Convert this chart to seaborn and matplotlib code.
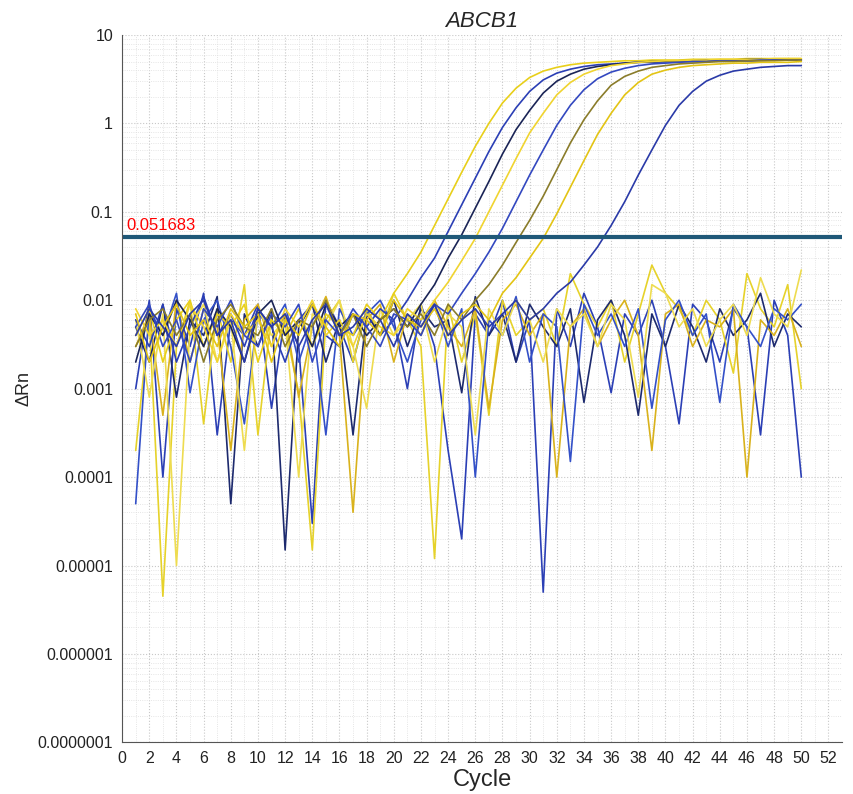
import numpy as np
import pandas as pd
import matplotlib
matplotlib.use("Agg")
import matplotlib.pyplot as plt
import seaborn as sns
from matplotlib.ticker import FixedLocator, FixedFormatter, LogLocator

cycles = list(range(1, 51))

# amplifying wells
amp1 = [0.004,0.008,0.002,0.006,0.01,0.003,0.007,0.005,0.009,0.002,0.006,0.004,0.008,0.003,0.007,0.005,0.004,0.009,0.006,0.012,0.02,0.035,0.07,0.14,0.28,0.55,1.0,1.7,2.5,3.3,3.9,4.3,4.6,4.8,4.9,5.0,5.1,5.1,5.2,5.2,5.2,5.3,5.3,5.3,5.3,5.4,5.4,5.4,5.4,5.4]
amp2 = [0.006,0.003,0.009,0.002,0.005,0.011,0.004,0.007,0.003,0.008,0.005,0.002,0.006,0.009,0.004,0.003,0.007,0.005,0.008,0.006,0.01,0.018,0.03,0.06,0.12,0.24,0.48,0.9,1.5,2.3,3.1,3.7,4.1,4.4,4.6,4.7,4.8,4.9,4.9,5.0,5.0,5.0,5.1,5.1,5.1,5.1,5.1,5.2,5.2,5.2]
amp3 = [0.002,0.007,0.004,0.01,0.006,0.003,0.008,0.005,0.002,0.007,0.01,0.004,0.006,0.003,0.009,0.005,0.007,0.004,0.006,0.008,0.005,0.009,0.015,0.03,0.055,0.11,0.22,0.45,0.85,1.4,2.2,3.0,3.6,4.1,4.4,4.6,4.8,4.9,5.0,5.0,5.1,5.1,5.2,5.2,5.2,5.3,5.3,5.3,5.3,5.3]
amp4 = [0.008,0.004,0.006,0.003,0.009,0.005,0.002,0.007,0.004,0.006,0.003,0.008,0.005,0.01,0.004,0.006,0.003,0.007,0.005,0.004,0.008,0.006,0.01,0.016,0.028,0.05,0.1,0.2,0.4,0.78,1.3,2.1,2.9,3.6,4.1,4.5,4.7,4.9,5.0,5.1,5.1,5.2,5.2,5.3,5.3,5.3,5.3,5.4,5.4,5.4]
amp5 = [0.005,0.009,0.003,0.006,0.002,0.008,0.005,0.01,0.004,0.003,0.007,0.005,0.009,0.002,0.006,0.004,0.008,0.005,0.003,0.007,0.006,0.004,0.009,0.007,0.012,0.02,0.035,0.065,0.13,0.26,0.5,0.95,1.6,2.4,3.2,3.8,4.2,4.5,4.7,4.8,4.9,5.0,5.0,5.1,5.1,5.1,5.2,5.2,5.2,5.2]
amp6 = [0.003,0.006,0.008,0.004,0.007,0.002,0.006,0.009,0.005,0.004,0.008,0.003,0.006,0.005,0.01,0.004,0.007,0.003,0.006,0.008,0.005,0.007,0.004,0.009,0.006,0.01,0.015,0.025,0.045,0.08,0.15,0.3,0.6,1.1,1.8,2.7,3.4,3.9,4.3,4.5,4.7,4.8,4.9,5.0,5.0,5.1,5.1,5.1,5.2,5.2]
amp7 = [0.007,0.002,0.005,0.009,0.004,0.006,0.003,0.008,0.005,0.007,0.002,0.006,0.004,0.009,0.005,0.003,0.007,0.006,0.004,0.01,0.006,0.005,0.008,0.004,0.007,0.009,0.006,0.012,0.018,0.03,0.05,0.095,0.19,0.38,0.75,1.3,2.1,2.9,3.6,4.0,4.3,4.5,4.6,4.7,4.8,4.8,4.9,4.9,4.9,5.0]
amp8 = [0.004,0.008,0.005,0.003,0.007,0.01,0.004,0.006,0.002,0.008,0.005,0.007,0.003,0.006,0.009,0.004,0.005,0.008,0.006,0.003,0.007,0.005,0.009,0.004,0.006,0.008,0.005,0.007,0.01,0.006,0.008,0.012,0.016,0.025,0.04,0.07,0.13,0.26,0.5,0.95,1.6,2.3,3.0,3.5,3.9,4.1,4.3,4.4,4.5,4.5]

# non-amplifying wells
noise1 = [0.001,0.01,0.0001,0.008,0.003,0.012,0.0003,0.006,0.004,0.009,0.0006,0.007,0.003,0.00003,0.01,0.005,0.002,0.008,0.004,0.006,0.001,0.009,0.003,0.0002,0.00002,0.007,0.004,0.01,0.002,0.006,0.000005,0.008,0.003,0.012,0.005,0.0009,0.007,0.004,0.01,0.003,0.0004,0.009,0.006,0.002,0.008,0.005,0.0003,0.01,0.004,0.0001]
noise2 = [0.0002,0.006,0.0000045,0.003,0.01,0.0004,0.008,0.002,0.015,0.0003,0.007,0.005,0.0009,0.000015,0.006,0.01,0.002,0.008,0.004,0.012,0.006,0.003,0.000012,0.009,0.002,0.007,0.0005,0.01,0.004,0.006,0.008,0.003,0.02,0.009,0.005,0.01,0.002,0.007,0.025,0.012,0.008,0.004,0.01,0.006,0.0015,0.02,0.008,0.005,0.015,0.001]
noise3 = [0.005,0.002,0.009,0.0008,0.006,0.004,0.011,0.00005,0.007,0.003,0.008,0.000015,0.005,0.009,0.002,0.006,0.0003,0.007,0.004,0.01,0.003,0.008,0.005,0.006,0.0009,0.011,0.004,0.007,0.002,0.009,0.005,0.003,0.008,0.0007,0.006,0.01,0.004,0.0005,0.007,0.003,0.009,0.005,0.002,0.008,0.004,0.006,0.012,0.003,0.007,0.005]
noise4 = [0.003,0.007,0.0005,0.01,0.002,0.008,0.005,0.0002,0.006,0.009,0.003,0.007,0.0008,0.005,0.011,0.004,0.00004,0.006,0.009,0.002,0.007,0.004,0.01,0.005,0.003,0.008,0.0006,0.006,0.009,0.004,0.007,0.0001,0.005,0.008,0.003,0.006,0.01,0.004,0.0002,0.007,0.009,0.003,0.006,0.005,0.008,0.0001,0.006,0.004,0.008,0.003]
noise5 = [0.00005,0.008,0.004,0.012,0.0009,0.006,0.01,0.003,0.0004,0.007,0.005,0.009,0.002,0.006,0.0003,0.008,0.004,0.007,0.01,0.005,0.002,0.006,0.009,0.003,0.008,0.0001,0.006,0.004,0.011,0.002,0.007,0.005,0.00015,0.009,0.004,0.007,0.003,0.008,0.0006,0.006,0.01,0.004,0.007,0.0007,0.009,0.005,0.003,0.008,0.006,0.009]
noise6 = [0.006,0.0008,0.007,0.00001,0.005,0.009,0.002,0.006,0.0002,0.008,0.004,0.006,0.0001,0.007,0.005,0.01,0.003,0.0006,0.008,0.004,0.006,0.009,0.002,0.007,0.005,0.0003,0.008,0.004,0.01,0.006,0.002,0.008,0.005,0.007,0.003,0.009,0.006,0.0008,0.015,0.012,0.005,0.008,0.003,0.006,0.009,0.004,0.018,0.007,0.005,0.022]

threshold = 0.051683
ytick_labels = ["0.0000001", "0.000001", "0.00001", "0.0001", "0.001", "0.01", "0.1", "1", "10"]

series = [
    ("noise1", noise1, "#2b3fb5"), ("noise2", noise2, "#e6d22a"), ("noise3", noise3, "#1d2a6e"),
    ("noise4", noise4, "#d9b21c"), ("noise5", noise5, "#3350c8"), ("noise6", noise6, "#eedc50"),
    ("amp1", amp1, "#e8cf1a"), ("amp2", amp2, "#2b3fb5"), ("amp3", amp3, "#1a2456"),
    ("amp4", amp4, "#f0d430"), ("amp5", amp5, "#3348c0"), ("amp6", amp6, "#8a7c2a"),
    ("amp7", amp7, "#e3c414"), ("amp8", amp8, "#2a3aa8"),
]

rows = []
for name, vals, _ in series:
    for c, v in zip(cycles, vals):
        rows.append({"well": name, "cycle": c, "drn": v})
df = pd.DataFrame(rows)
palette = {name: col for name, _, col in series}

sns.set_style("white")
plt.rcParams["font.family"] = "Liberation Sans"
fig = plt.figure(figsize=(8.54, 7.94), dpi=100)
ax = fig.add_axes([0.143, 0.065, 0.843, 0.891])

sns.lineplot(data=df, x="cycle", y="drn", hue="well", palette=palette,
             linewidth=1.2, legend=False, ax=ax, estimator=None)
ax.axhline(threshold, color="#1f5878", linewidth=3)
ax.text(0.3, threshold * 1.12, "0.051683", color="red", fontsize=12, va="bottom")

ax.set_yscale("log")
ax.set_ylim(1e-7, 10)
ax.set_xlim(0, 53)
ax.yaxis.set_major_locator(FixedLocator([10.0 ** k for k in range(-7, 2)]))
ax.yaxis.set_major_formatter(FixedFormatter(ytick_labels))
ax.yaxis.set_minor_locator(LogLocator(base=10, subs=np.arange(2, 10)))
ax.yaxis.set_minor_formatter(FixedFormatter([]))
ax.set_xticks(range(0, 53, 2))
ax.set_xticks(range(1, 53, 2), minor=True)
ax.grid(which="major", color="#c8c8c8", linewidth=0.8, linestyle=":")
ax.grid(which="minor", color="#dddddd", linewidth=0.6, linestyle=":")
ax.tick_params(labelsize=11.5, colors="#222222", length=3)
for s in ["top", "right"]:
    ax.spines[s].set_visible(False)
for s in ["left", "bottom"]:
    ax.spines[s].set_color("#555555")

ax.set_title("ABCB1", fontstyle="italic", fontsize=16, pad=6)
ax.set_xlabel("Cycle", fontsize=17, labelpad=2)
ax.set_ylabel("ΔRn", fontsize=13)

fig.savefig("out.png", dpi=100)
